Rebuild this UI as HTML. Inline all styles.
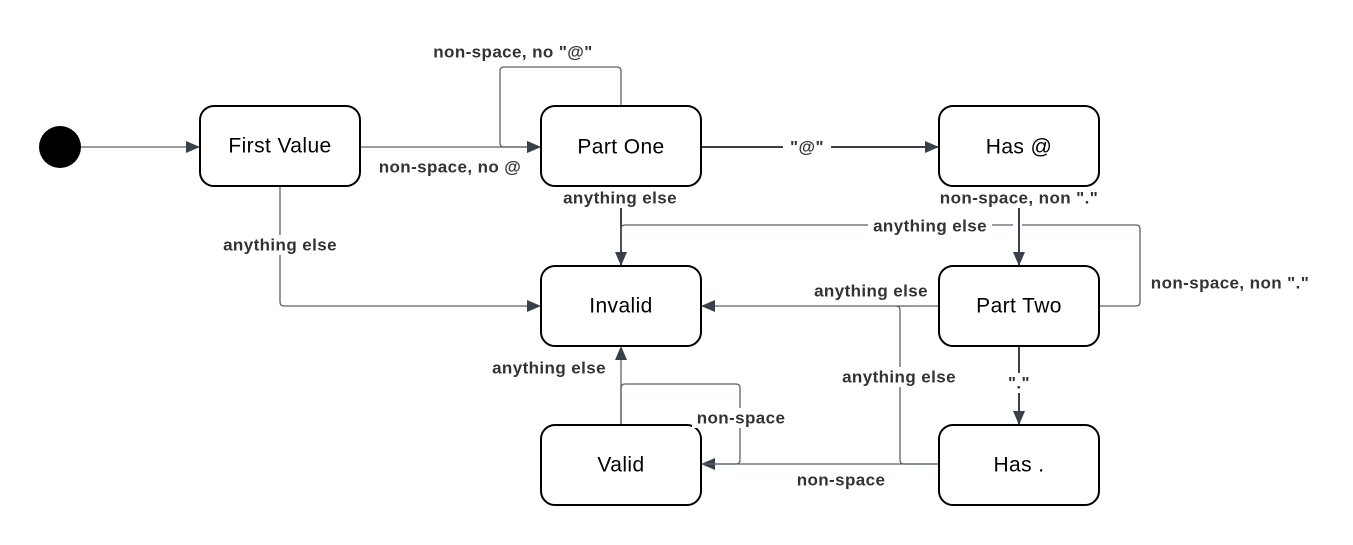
<!DOCTYPE html>
<html><head><meta charset="utf-8"><style>
html,body{margin:0;padding:0;background:#fff;}
svg{display:block;}
.n{fill:#fff;stroke:#000;stroke-width:2;}
.t{font-family:"Liberation Sans",sans-serif;font-size:21px;letter-spacing:0.4px;fill:#000;text-anchor:middle;dominant-baseline:central;}
.l{font-family:"Liberation Sans",sans-serif;font-size:17px;letter-spacing:0.4px;font-weight:bold;fill:#333;text-anchor:middle;dominant-baseline:central;}
.e{fill:none;stroke:#5b616b;stroke-width:1.3;}
.d{fill:none;stroke:#3a404a;stroke-width:2;}
</style></head><body>
<svg width="1353" height="545" viewBox="0 0 1353 545">
<defs><marker id="a" markerWidth="14" markerHeight="12" refX="13" refY="6" orient="auto" markerUnits="userSpaceOnUse"><path d="M0,0 L14,6 L0,12 z" fill="#3a404a"/></marker></defs>
<circle cx="60" cy="147" r="21" fill="#000"/>
<path class="e" d="M81,147 H199" marker-end="url(#a)"/>
<path class="e" d="M360,147 H540" marker-end="url(#a)"/>
<path class="e" d="M621,106 V71 Q621,67 617,67 H504 Q500,67 500,71 V143 Q500,147 504,147 H540" marker-end="url(#a)"/>
<path class="d" d="M701,147 H938" marker-end="url(#a)"/>
<path class="d" d="M621,208 V265" marker-end="url(#a)"/>
<path class="e" d="M1013,225 H625 Q621,225 621,229 V250"/>
<path class="d" d="M1019,208 V265" marker-end="url(#a)"/>
<path class="e" d="M1099,306 H1136 Q1140,306 1140,302 V229 Q1140,225 1136,225 H1022"/>
<path class="e" d="M939,306 H702" marker-end="url(#a)"/>
<path class="e" d="M939,464 H904 Q900,464 900,460 V310 Q900,306 896,306"/>
<path class="d" d="M1019,346 V424" marker-end="url(#a)"/>
<path class="e" d="M939,464 H702" marker-end="url(#a)"/>
<path class="e" d="M621,425 V388 Q621,384 625,384 H736 Q740,384 740,388 V460 Q740,464 736,464 H702"/>
<path class="e" d="M621,425 V347" marker-end="url(#a)"/>
<path class="e" d="M280,186 V302 Q280,306 284,306 H540" marker-end="url(#a)"/>
<rect class="n" x="200" y="106" width="160" height="80" rx="14"/>
<rect class="n" x="541" y="106" width="160" height="80" rx="14"/>
<rect class="n" x="939" y="106" width="160" height="80" rx="14"/>
<rect class="n" x="541" y="266" width="160" height="80" rx="14"/>
<rect class="n" x="939" y="266" width="160" height="80" rx="14"/>
<rect class="n" x="541" y="425" width="160" height="80" rx="14"/>
<rect class="n" x="939" y="425" width="160" height="80" rx="14"/>
<text class="t" x="280" y="146">First Value</text>
<text class="t" x="621" y="147">Part One</text>
<text class="t" x="1019" y="147">Has @</text>
<text class="t" x="621" y="306">Invalid</text>
<text class="t" x="1019" y="306">Part Two</text>
<text class="t" x="621" y="465">Valid</text>
<text class="t" x="1019" y="465">Has .</text>
<g>
<rect x="452" y="42" width="124" height="20" fill="#fff"/><text class="l" x="513" y="52">non-space, no "@"</text>
<text class="l" x="450" y="167">non-space, no @</text>
<rect x="783" y="137" width="48" height="20" fill="#fff"/><text class="l" x="807" y="147">"@"</text>
<text class="l" x="620" y="198">anything else</text>
<text class="l" x="1019" y="198">non-space, non "."</text>
<rect x="868" y="216" width="124" height="20" fill="#fff"/><text class="l" x="930" y="226">anything else</text>
<text class="l" x="1230" y="283">non-space, non "."</text>
<text class="l" x="871" y="291">anything else</text>
<rect x="838" y="367" width="124" height="20" fill="#fff"/><text class="l" x="899" y="377">anything else</text>
<rect x="1008" y="373" width="22" height="20" fill="#fff"/><text class="l" x="1019" y="383">"."</text>
<text class="l" x="841" y="480">non-space</text>
<rect x="692" y="408" width="98" height="20" fill="#fff"/><text class="l" x="741" y="418">non-space</text>
<text class="l" x="549" y="368">anything else</text>
<rect x="218" y="235" width="124" height="20" fill="#fff"/><text class="l" x="280" y="245">anything else</text>
</g>
</svg>
</body></html>
